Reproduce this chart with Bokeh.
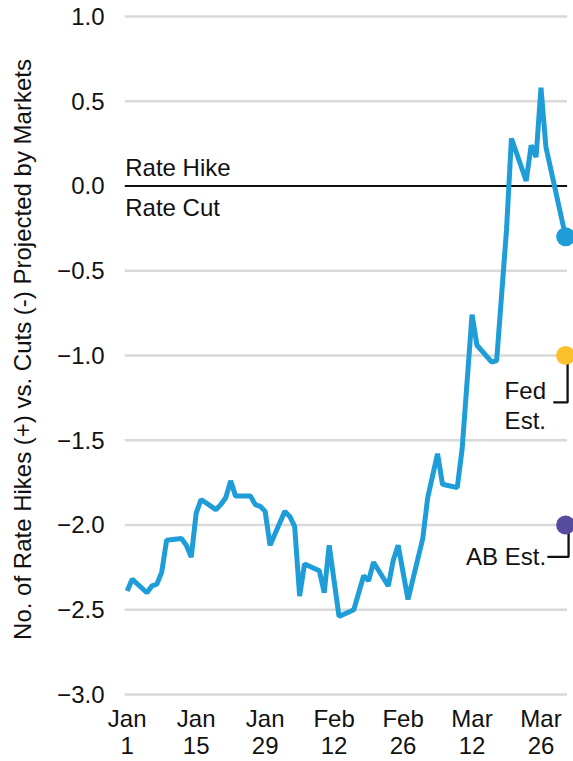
import pandas as pd
from bokeh.plotting import figure
from bokeh.models import Range1d, FixedTicker, CustomJSTickFormatter, Label, ColumnDataSource
from bokeh.embed import file_html
from bokeh.resources import INLINE

# ---------------- data ----------------
dates = ["2023-01-01", "2023-01-02", "2023-01-05", "2023-01-06", "2023-01-07", "2023-01-08",
         "2023-01-09", "2023-01-12", "2023-01-13", "2023-01-14", "2023-01-15", "2023-01-16",
         "2023-01-19", "2023-01-20", "2023-01-21", "2023-01-22", "2023-01-23", "2023-01-26",
         "2023-01-27", "2023-01-28", "2023-01-29", "2023-01-30", "2023-02-02", "2023-02-03",
         "2023-02-04", "2023-02-05", "2023-02-06", "2023-02-09", "2023-02-10", "2023-02-11",
         "2023-02-13", "2023-02-16", "2023-02-18", "2023-02-19", "2023-02-20", "2023-02-23",
         "2023-02-24", "2023-02-25", "2023-02-27", "2023-03-02", "2023-03-03", "2023-03-05",
         "2023-03-06", "2023-03-09", "2023-03-10", "2023-03-12", "2023-03-13", "2023-03-16",
         "2023-03-17", "2023-03-19", "2023-03-20", "2023-03-23", "2023-03-24", "2023-03-25",
         "2023-03-26", "2023-03-27", "2023-03-31"]
values = [-2.39, -2.32, -2.40, -2.36, -2.35, -2.28,
          -2.09, -2.08, -2.12, -2.19, -1.93, -1.85,
          -1.91, -1.88, -1.84, -1.74, -1.83, -1.83,
          -1.88, -1.89, -1.92, -2.12, -1.92, -1.95,
          -2.01, -2.42, -2.23, -2.27, -2.40, -2.12,
          -2.54, -2.50, -2.30, -2.33, -2.22, -2.36,
          -2.21, -2.12, -2.44, -2.08, -1.84, -1.58,
          -1.76, -1.78, -1.55, -0.76, -0.94, -1.04,
          -1.03, -0.26, 0.28, 0.03, 0.24, 0.17,
          0.58, 0.23, -0.30]
fed_est = -1.0
ab_est = -2.0
y_ticks = [-3.0, -2.5, -2.0, -1.5, -1.0, -0.5, 0.0, 0.5, 1.0]
x_tick_dates = ["2023-01-01", "2023-01-15", "2023-01-29", "2023-02-12",
                "2023-02-26", "2023-03-12", "2023-03-26"]
y_label = "No. of Rate Hikes (+) vs. Cuts (-) Projected by Markets"

# ---------------- styling ----------------
BLUE = "#1f9dd9"
GOLD = "#fcbf2c"
PURPLE = "#574ba0"
GRID = "#d9d9d9"
INK = "#111111"
FONT = "Liberation Sans"
FS = "24px"

DAY = 86400000.0
t = [pd.Timestamp(d).value / 1e6 for d in dates]
ticks_ms = [pd.Timestamp(d).value / 1e6 for d in x_tick_dates]
last = t[-1]

x_start = t[0] - 0.55 * DAY
x_end = t[0] + 90.6 * DAY
y_start, y_end = -3.024, 1.094

W, H = 573, 761
MB_L, MB_R, MB_T, MB_B = 124, 0, 0, 63
frame_h = H - MB_T - MB_B
ppu = frame_h / (y_end - y_start)       # pixels per y unit

p = figure(width=W, height=H, x_axis_type="datetime",
           x_range=Range1d(x_start, x_end), y_range=Range1d(y_start, y_end),
           output_backend="svg", toolbar_location=None,
           min_border_left=MB_L, min_border_right=MB_R,
           min_border_top=MB_T, min_border_bottom=MB_B)
p.outline_line_color = None
p.grid.visible = False
p.background_fill_color = "white"
p.border_fill_color = "white"

# axes
for ax in (p.xaxis[0], p.yaxis[0]):
    ax.axis_line_color = None
    ax.major_tick_line_color = None
    ax.minor_tick_line_color = None
    ax.major_tick_out = 0
    ax.major_tick_in = 0
    ax.minor_tick_out = 0
    ax.major_label_text_font = FONT
    ax.major_label_text_font_size = FS
    ax.major_label_text_color = INK

p.yaxis.ticker = FixedTicker(ticks=y_ticks)
p.yaxis.formatter = CustomJSTickFormatter(
    code="return (tick < 0 ? '\u2212' : '') + Math.abs(tick).toFixed(1);")
p.yaxis.major_label_standoff = 20
p.yaxis.axis_label = y_label
p.yaxis.axis_label_text_font = FONT
p.yaxis.axis_label_text_font_size = "24px"
p.yaxis.axis_label_text_font_style = "normal"
p.yaxis.axis_label_text_color = INK
p.yaxis.axis_label_standoff = 18

p.xaxis.ticker = FixedTicker(ticks=ticks_ms)
p.xaxis.formatter = CustomJSTickFormatter(code="""
const m = ['Jan','Feb','Mar','Apr','May','Jun','Jul','Aug','Sep','Oct','Nov','Dec'];
const d = new Date(tick);
return m[d.getUTCMonth()] + '\\n' + d.getUTCDate();
""")
p.xaxis.major_label_standoff = 6
p.xaxis.major_label_text_line_height = 1.0

# grid lines (stop at last data date)
grid_y = [y for y in y_ticks if y != 0.0]
gsrc = ColumnDataSource(dict(y=grid_y, x0=[x_start] * len(grid_y),
                             x1=[last + 0.3 * DAY] * len(grid_y)))
p.segment(x0="x0", x1="x1", y0="y", y1="y", source=gsrc,
          line_color=GRID, line_width=2.5)
# zero line
p.segment(x0=[x_start], x1=[last + 0.3 * DAY], y0=[0.0], y1=[0.0],
          line_color=INK, line_width=2)

# series
p.line(t, values, line_color=BLUE, line_width=5)

# bracket lines for estimates
fed_drop = 47 / ppu
ab_drop = 32 / ppu
p.line([last + 0.4 * DAY, last + 0.4 * DAY, last - 2.5 * DAY],
       [fed_est, fed_est - fed_drop, fed_est - fed_drop], line_color=INK, line_width=2.3)
p.line([last + 0.6 * DAY, last + 0.6 * DAY, last - 3.7 * DAY],
       [ab_est, ab_est - ab_drop, ab_est - ab_drop], line_color=INK, line_width=2.3)

# dots
p.scatter([last], [values[-1]], size=19, fill_color=BLUE, line_color=None)
p.scatter([last], [fed_est], size=19, fill_color=GOLD, line_color=None)
p.scatter([last], [ab_est], size=19, fill_color=PURPLE, line_color=None)

# text annotations
def add_label(x, y, text, xo, yo, align="left"):
    p.add_layout(Label(x=x, y=y, text=text, x_offset=xo, y_offset=yo,
                       text_font=FONT, text_font_size=FS, text_color=INK,
                       text_align=align, text_baseline="alphabetic"))

add_label(t[0], 0.0, "Rate Hike", -2, 18)
add_label(t[0], 0.0, "Rate Cut", -2, -22)
add_label(last, fed_est, "Fed", -61, -35.5)
add_label(last, fed_est, "Est.", -61, -65)
add_label(last, ab_est, "AB Est.", -19.5, -32, align="right")

open("out.html", "w").write(file_html(p, INLINE))
